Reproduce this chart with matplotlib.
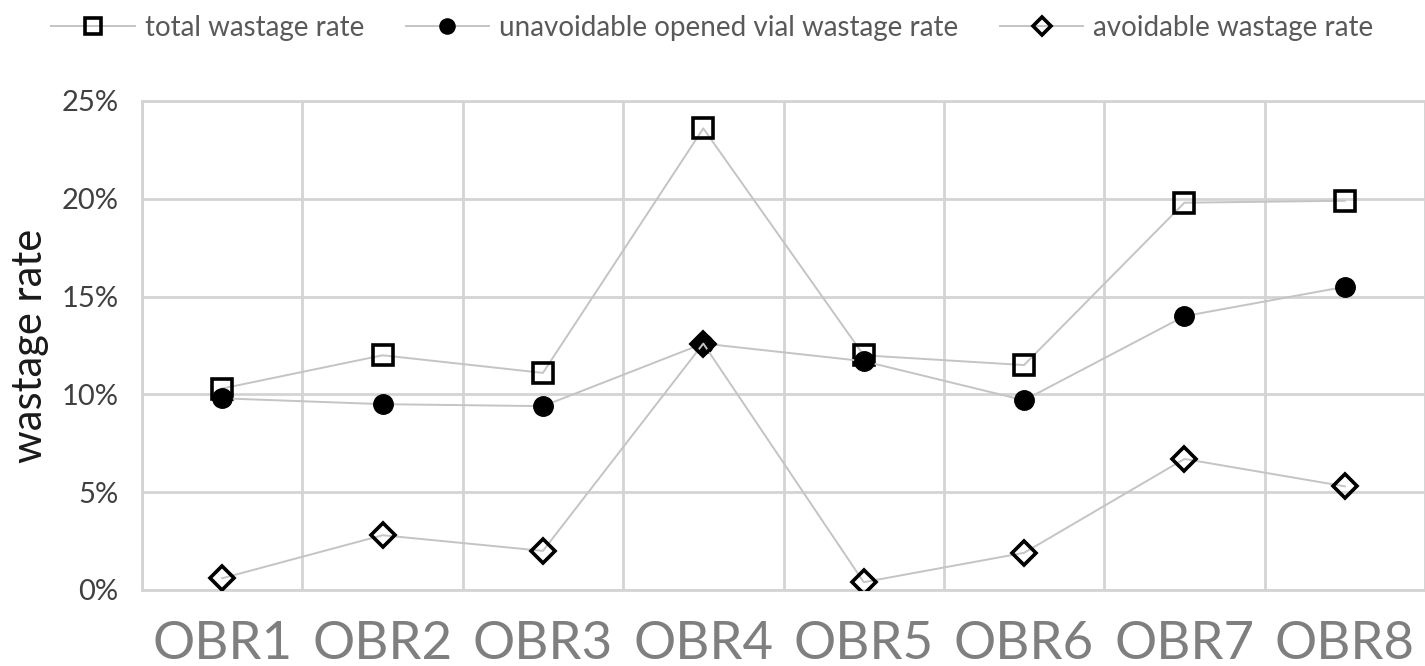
import matplotlib
matplotlib.use("Agg")
import matplotlib.pyplot as plt
from matplotlib.ticker import PercentFormatter, MultipleLocator

# wastage rates per site (fraction)
sites = ["OBR1", "OBR2", "OBR3", "OBR4", "OBR5", "OBR6", "OBR7", "OBR8"]
total_rate = [0.103, 0.120, 0.111, 0.236, 0.120, 0.115, 0.198, 0.199]
unavoidable_rate = [0.098, 0.095, 0.094, 0.126, 0.117, 0.097, 0.140, 0.155]
avoidable_rate = [0.006, 0.028, 0.020, 0.126, 0.004, 0.019, 0.067, 0.053]

plt.rcParams['font.family'] = ['Lato', 'DejaVu Sans']

fig = plt.figure(figsize=(14.25, 6.66), dpi=100)
ax = fig.add_axes([142 / 1425, 76 / 666, 1283 / 1425, 489 / 666])

x = range(len(sites))
line_col = "#c4c4c4"
grid_col = "#d4d4d4"

ax.plot(x, total_rate, color=line_col, lw=1.4, marker="s", ms=15,
        mfc="none", mec="black", mew=2.6, label="total wastage rate", zorder=3)
ax.plot(x, unavoidable_rate, color=line_col, lw=1.4, marker="o", ms=14,
        mfc="black", mec="black", label="unavoidable opened vial wastage rate", zorder=3)
ax.plot(x, avoidable_rate, color=line_col, lw=1.4, marker="D", ms=12,
        mfc="none", mec="black", mew=2.6, label="avoidable wastage rate", zorder=3)

ax.set_xlim(-0.5, len(sites) - 0.5)
ax.set_ylim(0, 0.25)
ax.yaxis.set_major_locator(MultipleLocator(0.05))
ax.yaxis.set_major_formatter(PercentFormatter(1.0, decimals=0))
ax.set_xticks(list(x))
ax.set_xticklabels(sites)
ax.xaxis.set_minor_locator(MultipleLocator(1, offset=0.5))

ax.grid(axis="y", which="major", color=grid_col, lw=2)
ax.grid(axis="x", which="minor", color=grid_col, lw=2)
ax.set_axisbelow(True)
for s in ax.spines.values():
    s.set_color(grid_col)
    s.set_linewidth(2)

ax.tick_params(axis="both", which="both", length=0)
ax.tick_params(axis="x", labelsize=38, labelcolor="#7f7f7f", pad=22)
ax.tick_params(axis="y", labelsize=21, labelcolor="#404040", pad=17)
ax.set_ylabel("wastage rate", fontsize=30, color="#1a1a1a", labelpad=9)

fig.legend(loc="upper center", bbox_to_anchor=(0.5, 1.015), ncol=3, frameon=False,
           fontsize=20, labelcolor="#595959", handlelength=3.0, handletextpad=0.36,
           columnspacing=1.5, markerscale=0.78)

fig.savefig("out.png", dpi=100)
